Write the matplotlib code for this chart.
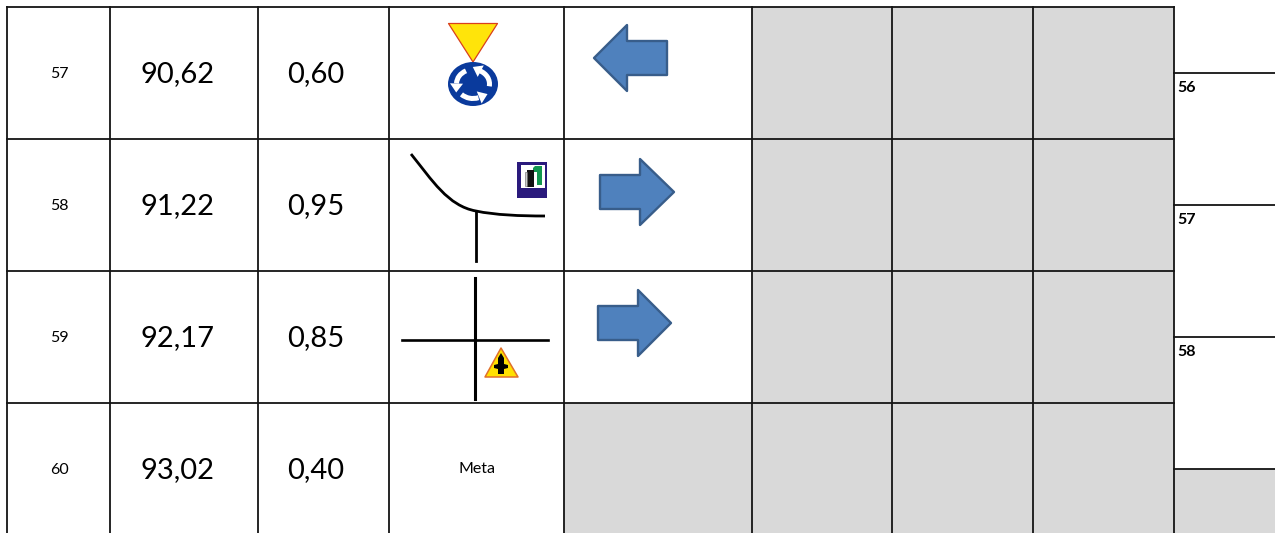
"""Table of sections with distances, road sketches and direction arrows."""

import numpy as np
import matplotlib
matplotlib.use("Agg")
import matplotlib.pyplot as plt
from matplotlib.patches import Rectangle, Polygon, Ellipse, PathPatch, Arc
from matplotlib.path import Path

plt.rcParams["font.family"] = ["Lato", "DejaVu Sans"]

row_labels = ["57", "58", "59", "60"]
row_totals = ["90,62", "91,22", "92,17", "93,02"]
row_deltas = ["0,60", "0,95", "0,85", "0,40"]
side_labels = ["56", "57", "58"]
meta_label = "Meta"

# layout in pixels
COL_X = [7, 110, 258, 388.5, 564, 752, 892, 1033, 1174]
ROW_Y = [7, 139, 271, 403, 535]
SIDE_Y = [73, 205, 337, 469]
W, H = 1275, 533
GREY = "#d9d9d9"
LINE = "#141414"
LW = 1.3

# tip x, head x, tail x, centre y for each arrow
ARROW_GEOM = [(594, 627, 667, 58), (674, 640, 600, 192), (671, 638, 598, 323)]


def draw_arrow(ax, tip, head, tail, cy):
    pts = [(tip, cy), (head, cy - 33), (head, cy - 17), (tail, cy - 17),
           (tail, cy + 17), (head, cy + 17), (head, cy + 33)]
    ax.add_patch(Polygon(pts, closed=True, facecolor="#4f81bd", edgecolor="#385d8a",
                         linewidth=1.7, joinstyle="round", zorder=3))


def draw_roundabout_sign(ax):
    cx, cy = 473, 84
    rx, ry = 16.5, 14.5
    ax.add_patch(Polygon([(448.5, 23.5), (497.5, 23.5), (473, 62)], closed=True, facecolor="#ffe40a",
                         edgecolor="#d9401c", linewidth=0.9, joinstyle="round", zorder=3))
    ax.add_patch(Ellipse((cx, cy), 50, 44, facecolor="#0a3a9c", edgecolor="none", zorder=3))
    # three white arrows going anticlockwise, angles as seen on screen
    for start, end in [(118, 178), (-8, 62), (222, 292)]:
        ax.add_patch(Arc((cx, cy), 2 * rx, 2 * ry, theta1=-end, theta2=-start, color="white",
                         linewidth=3.6, zorder=4))
        a = np.radians(end)
        t = np.array([-np.sin(a), np.cos(a)])
        c = np.array([cx + rx * np.cos(a), cy - ry * np.sin(a)])
        d = np.array([t[0], -t[1]])
        n = np.array([-d[1], d[0]])
        ax.add_patch(Polygon([c + 9 * d, c + 6.5 * n, c - 6.5 * n], closed=True,
                             facecolor="white", edgecolor="none", zorder=4))


def draw_curve_sketch(ax):
    verts = [(411, 154), (432, 180), (448, 206), (476, 211),
             (495, 215), (520, 216), (545, 216)]
    codes = [Path.MOVETO] + [Path.CURVE4] * 6
    ax.add_patch(PathPatch(Path(verts, codes), facecolor="none", edgecolor="black",
                           linewidth=2.0, zorder=3))
    ax.plot([476, 476], [211, 261], color="black", lw=2.0, zorder=3)
    # fuel sign
    ax.add_patch(Rectangle((517, 162), 30, 36, facecolor="#2a1a7c", edgecolor="none", zorder=3))
    ax.add_patch(Rectangle((521, 165), 24, 23, facecolor="white", edgecolor="none", zorder=4))
    ax.add_patch(Polygon([(533, 168), (535, 166), (542, 166), (542, 185), (537, 185), (537, 172), (533, 172)],
                         closed=True, facecolor="#12964f", edgecolor="none", zorder=5))
    ax.add_patch(Rectangle((527, 170), 7, 17, facecolor="#111111", edgecolor="none", zorder=6))
    ax.add_patch(Rectangle((524.5, 172), 2, 14, facecolor="#cccccc", edgecolor="#666666",
                           linewidth=0.4, zorder=6))


def draw_cross_sketch(ax):
    ax.plot([402, 548], [340, 340], color="black", lw=1.9, zorder=3)
    ax.plot([475, 475], [278, 399], color="black", lw=2.2, zorder=3)
    ax.add_patch(Polygon([(501, 348), (518, 377), (485, 377)], closed=True, facecolor="#ffe000",
                         edgecolor="#e0702a", linewidth=1.1, joinstyle="round", zorder=4))
    ax.add_patch(Polygon([(501, 353), (504, 358), (504, 364), (508, 365), (508, 368), (504, 369),
                          (504, 374), (498, 374), (498, 369), (494, 368), (494, 365), (498, 364),
                          (498, 358)], closed=True, facecolor="black", edgecolor="none", zorder=5))


fig = plt.figure(figsize=(W / 100, H / 100), dpi=100)
ax = fig.add_axes([0, 0, 1, 1])
ax.set_xlim(0, W)
ax.set_ylim(H, 0)
ax.axis("off")

# grey cells
for r in range(3):
    for c in range(5, 8):
        ax.add_patch(Rectangle((COL_X[c], ROW_Y[r]), COL_X[c + 1] - COL_X[c], ROW_Y[r + 1] - ROW_Y[r],
                               facecolor=GREY, edgecolor="none", zorder=1))
ax.add_patch(Rectangle((COL_X[4], ROW_Y[3]), COL_X[8] - COL_X[4], ROW_Y[4] - ROW_Y[3],
                       facecolor=GREY, edgecolor="none", zorder=1))
ax.add_patch(Rectangle((COL_X[8], SIDE_Y[3]), W - COL_X[8], H - SIDE_Y[3],
                       facecolor=GREY, edgecolor="none", zorder=1))

# grid lines
for x in COL_X:
    ax.plot([x, x], [ROW_Y[0], H], color=LINE, lw=LW, zorder=2)
for y in ROW_Y[:4]:
    ax.plot([COL_X[0], COL_X[8]], [y, y], color=LINE, lw=LW, zorder=2)
for y in SIDE_Y:
    ax.plot([COL_X[8], W], [y, y], color=LINE, lw=LW, zorder=2)

# cell text
for i, (lab, total, delta) in enumerate(zip(row_labels, row_totals, row_deltas)):
    cy = (ROW_Y[i] + ROW_Y[i + 1]) / 2
    ax.text(59.5, cy + 0.5, lab, fontsize=11.5, color="black", ha="center", va="center")
    ax.text(177.5, cy + 1.5, total, fontsize=21, color="black", ha="center", va="center")
    ax.text(316, cy + 1.5, delta, fontsize=21, color="black", ha="center", va="center")
ax.text(477, 469, meta_label, fontsize=11.5, color="black", ha="center", va="center")

for i, lab in enumerate(side_labels):
    ax.text(1177.5, SIDE_Y[i] + 15, lab, fontsize=11.5, fontweight="bold", color="black", ha="left", va="center")

for geom in ARROW_GEOM:
    draw_arrow(ax, *geom)

draw_roundabout_sign(ax)
draw_curve_sketch(ax)
draw_cross_sketch(ax)

fig.savefig("out.png", dpi=100)
